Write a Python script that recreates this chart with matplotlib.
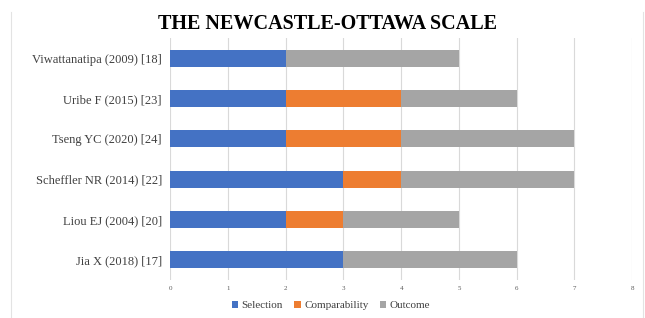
import matplotlib.pyplot as plt
import numpy as np

# studies, bottom to top as drawn
studies = ['Jia X (2018) [17]', 'Liou EJ (2004) [20]', 'Scheffler NR (2014) [22]',
           'Tseng YC (2020) [24]', 'Uribe F (2015) [23]', 'Viwattanatipa (2009) [18]']
selection = [3, 2, 3, 2, 2, 2]
comparability = [0, 1, 1, 2, 2, 0]
outcome = [3, 2, 3, 3, 2, 3]

plt.rcParams['font.family'] = ['Liberation Serif', 'DejaVu Serif']

fig = plt.figure(figsize=(6.45, 3.18), dpi=100)
ax = fig.add_axes([0.264, 0.1195, 0.716, 0.761])

y = np.arange(len(studies))
sel = np.array(selection)
comp = np.array(comparability)
out = np.array(outcome)
h = 0.42
ax.barh(y, sel, height=h, color='#4472C4', label='Selection', zorder=3)
ax.barh(y, comp, left=sel, height=h, color='#ED7D31', label='Comparability', zorder=3)
ax.barh(y, out, left=sel + comp, height=h, color='#A5A5A5', label='Outcome', zorder=3)

ax.set_xlim(0, 8)
ax.set_ylim(-0.5, len(studies) - 0.5)
ax.set_xticks(range(9))
ax.set_yticks(y)
ax.set_yticklabels(studies, fontsize=9, color='#404040')
ax.tick_params(axis='x', labelsize=5, colors='#595959', length=0, pad=4)
ax.tick_params(axis='y', length=0, pad=6)
ax.grid(axis='x', color='#D9D9D9', linewidth=0.8, zorder=0)
for s in ax.spines.values():
    s.set_visible(False)

fig.suptitle('THE NEWCASTLE-OTTAWA SCALE', x=0.507, y=0.955, fontsize=14.5,
             fontweight='bold', color='black')
fig.legend(loc='center', bbox_to_anchor=(0.513, 0.04), ncol=3, frameon=False,
           fontsize=8, handlelength=0.6, handleheight=0.6, handletextpad=0.3,
           columnspacing=1.0, labelcolor='#404040')

# faint side edges of the picture
for xe in (11 / 645, 643 / 645):
    fig.add_artist(plt.Line2D([xe, xe], [0, 1 - 12 / 318], transform=fig.transFigure,
                              color='#E3E3E3', linewidth=0.8))

fig.savefig('out.png', dpi=100)
